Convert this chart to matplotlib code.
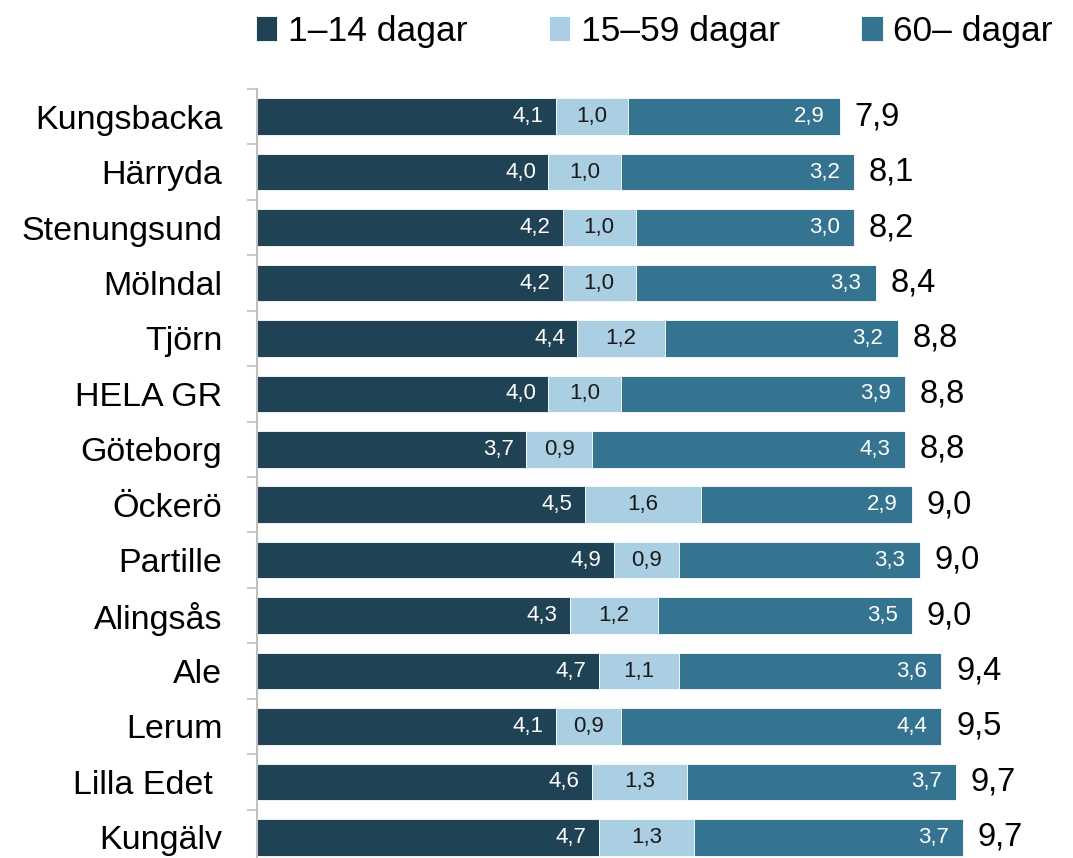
import numpy as np
import matplotlib.pyplot as plt
from matplotlib.ticker import FixedLocator

plt.rcParams['font.family'] = ['Liberation Sans', 'DejaVu Sans']

categories = ['Kungsbacka', 'Härryda', 'Stenungsund', 'Mölndal', 'Tjörn', 'HELA GR',
              'Göteborg', 'Öckerö', 'Partille', 'Alingsås', 'Ale', 'Lerum',
              'Lilla Edet ', 'Kungälv']
short = [4.1, 4.0, 4.2, 4.2, 4.4, 4.0, 3.7, 4.5, 4.9, 4.3, 4.7, 4.1, 4.6, 4.7]
mid = [1.0, 1.0, 1.0, 1.0, 1.2, 1.0, 0.9, 1.6, 0.9, 1.2, 1.1, 0.9, 1.3, 1.3]
long = [2.9, 3.2, 3.0, 3.3, 3.2, 3.9, 4.3, 2.9, 3.3, 3.5, 3.6, 4.4, 3.7, 3.7]
totals = [7.9, 8.1, 8.2, 8.4, 8.8, 8.8, 8.8, 9.0, 9.0, 9.0, 9.4, 9.5, 9.7, 9.7]
series_names = ['1–14 dagar', '15–59 dagar', '60– dagar']
colors = ['#204255', '#aacfe2', '#357491']

def fmt(v):
    return f'{v:.1f}'.replace('.', ',')

fig = plt.figure(figsize=(10.73, 8.58), dpi=100)
ax = fig.add_axes([257 / 1073, -7 / 858, 801 / 1073, 776 / 858])

y = np.arange(len(categories))
short = np.array(short)
mid = np.array(mid)
long = np.array(long)
h = 0.66

b1 = ax.barh(y, short, height=h, color=colors[0], edgecolor='white', linewidth=0.6, label=series_names[0])
b2 = ax.barh(y, mid, left=short, height=h, color=colors[1], edgecolor='white', linewidth=0.6, label=series_names[1])
b3 = ax.barh(y, long, left=short + mid, height=h, color=colors[2], edgecolor='white', linewidth=0.6, label=series_names[2])

for i in range(len(categories)):
    ax.text(short[i] - 0.17, y[i], fmt(short[i]), ha='right', va='center', color='white', fontsize=16)
    ax.text(short[i] + mid[i] / 2, y[i], fmt(mid[i]), ha='center', va='center', color='#1a1a1a', fontsize=16)
    end = short[i] + mid[i] + long[i]
    ax.text(end - 0.2, y[i], fmt(long[i]), ha='right', va='center', color='white', fontsize=16)
    ax.text(end + 0.2, y[i], fmt(totals[i]), ha='left', va='center', color='black', fontsize=23.5)

ax.set_xlim(0, 11)
ax.set_ylim(len(categories) - 0.5, -0.5)
ax.set_yticks(y)
ax.set_yticklabels(categories, fontsize=24.5)
ax.yaxis.set_minor_locator(FixedLocator(np.arange(-0.5, len(categories), 1)))
ax.tick_params(axis='y', which='major', length=0, pad=25)
ax.tick_params(axis='y', which='minor', length=7, width=1.2, color='#c0c0c0', direction='out')
ax.set_xticks([])
for s in ['top', 'right', 'bottom']:
    ax.spines[s].set_visible(False)
ax.spines['left'].set_color('#c0c0c0')
ax.spines['left'].set_linewidth(1.5)

fig.legend(handles=[b1, b2, b3], loc='center left', bbox_to_anchor=(242 / 1073, 1 - 31 / 858),
           ncol=3, frameon=False, fontsize=25.5, handlelength=0.6, handleheight=0.7,
           handletextpad=0.3, columnspacing=2.3, borderaxespad=0)

fig.savefig('out.png', dpi=100)
